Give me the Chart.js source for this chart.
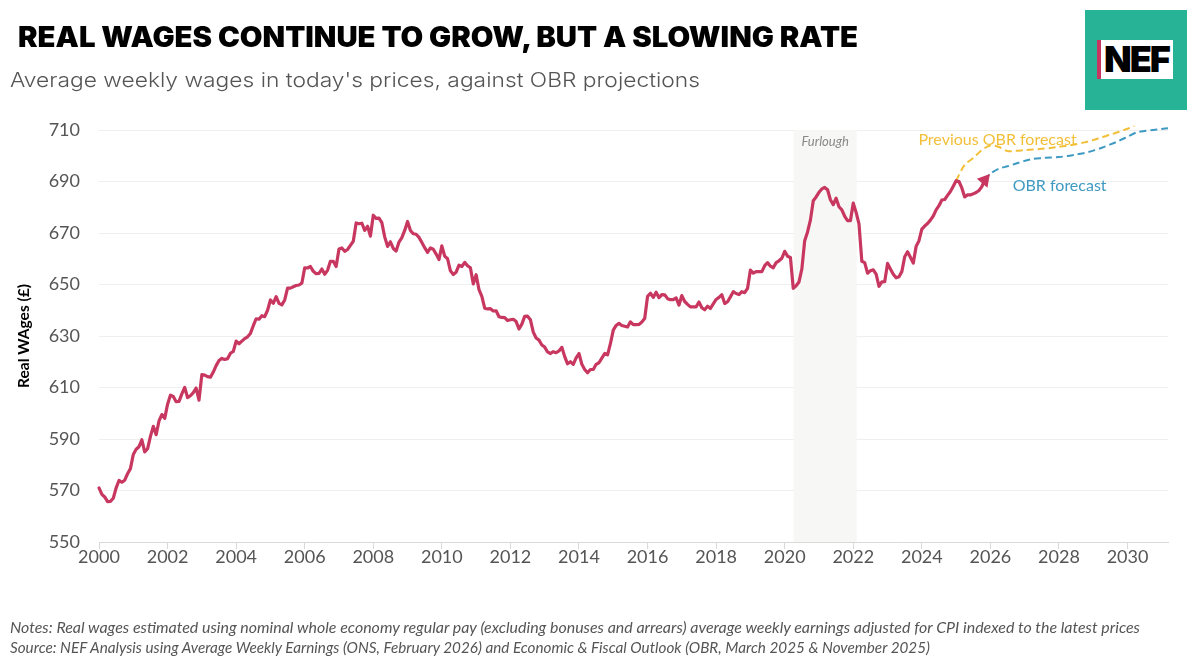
<!DOCTYPE html>
<html>
<head>
<meta charset="utf-8">
<script src="https://cdn.jsdelivr.net/npm/chart.js@4.4.1/dist/chart.umd.min.js"></script>
<style>
  html, body { margin:0; padding:0; background:#fff; }
  body { width:1200px; height:663px; position:relative; overflow:hidden; }
  #c { position:absolute; left:0; top:0; }
  .txt { position:absolute; white-space:nowrap; transform-origin:0 0; }
  #title { left:18px; top:20px; font-family:Inter, sans-serif; font-weight:900; font-size:28px; color:#000; letter-spacing:0; }
  #subtitle { left:10px; top:68px; font-family:Inter, sans-serif; font-weight:300; font-size:20px; color:#555; }
  #note1 { left:10px; top:618px; font-family:Lato, sans-serif; font-style:italic; font-size:15px; color:#555; }
  #note2 { left:10px; top:638px; font-family:Lato, sans-serif; font-style:italic; font-size:15px; color:#555; }
  #logo { position:absolute; left:1085px; top:10px; width:102px; height:100px; background:#27b396; }
  #logoInner { position:absolute; left:12px; top:30px; width:76px; height:39px; background:#fff; }
  #logoBar { position:absolute; left:0; top:0; width:4px; height:39px; background:#c8375f; }
  #logoText { position:absolute; left:7px; top:-2px; font-family:Inter, sans-serif; font-weight:900; font-size:36px; color:#000; letter-spacing:-2px; line-height:43px; }
</style>
</head>
<body>
<canvas id="c" width="1200" height="663"></canvas>
<div id="title" class="txt">REAL WAGES CONTINUE TO GROW, BUT A SLOWING RATE</div>
<div id="subtitle" class="txt">Average weekly wages in today's prices, against OBR projections</div>
<div id="note1" class="txt">Notes: Real wages estimated using nominal whole economy regular pay (excluding bonuses and arrears) average weekly earnings adjusted for CPI indexed to the latest prices</div>
<div id="note2" class="txt">Source: NEF Analysis using Average Weekly Earnings (ONS, February 2026) and Economic &amp; Fiscal Outlook (OBR, March 2025 &amp; November 2025)</div>
<div id="logo"><div id="logoInner"><div id="logoBar"></div><div id="logoText">NEF</div></div></div>
<script>
// ---------------- DATA ----------------
// Monthly real average weekly wages (£, today's prices), Jan 2000 onwards
const wageStartYear = 2000;
const realWages = [
  571, 568.5, 567.5, 565.7, 565.8, 567, 571, 573.9, 573.2, 574, 576.5, 578.5,
  584, 586, 587, 589.7, 585, 586.2, 591, 594.9, 591.7, 597, 599.5, 598,
  603.5, 607, 606.5, 604.5, 604.6, 607.5, 610, 606.1, 606.8, 608, 609.8, 605.1,
  615, 614.8, 614.2, 614, 616, 618.5, 620.5, 621.3, 620.9, 621.2, 623.3, 624,
  628, 627, 628, 629, 629.7, 631, 634, 636.7, 636.5, 637.9, 637.5, 640,
  644, 642.7, 645.3, 642.7, 642.1, 644, 648.6, 648.6, 649.1, 649.6, 649.8, 650.5,
  656.5, 656.4, 657, 655.1, 654.2, 654.3, 656, 654, 655.5, 659, 659, 657,
  663.8, 664.2, 662.9, 663.6, 665.2, 666.8, 673.9, 673.6, 673.8, 671, 672.6, 668.8,
  676.9, 675.7, 675.8, 674, 668.5, 664.8, 666.6, 664, 663, 666.5, 668.2, 671,
  674.5, 671, 669.7, 669.5, 668.3, 666.3, 664.3, 662.5, 664.2, 663.7, 661.8, 659.7,
  665, 661, 660, 655.3, 653.9, 654.8, 657.5, 657, 658.6, 657.3, 656.5, 650.2,
  653.8, 648, 645.4, 640.8, 640.5, 640.6, 639.7, 639.8, 637.5, 637.2, 637.1, 636,
  636.3, 636.5, 635.6, 632.7, 634.6, 637.6, 637.7, 636.3, 631.5, 629.2, 628.4, 626.5,
  625.7, 623.8, 623.2, 623.9, 623.5, 624.2, 625.6, 622, 619.2, 620, 619, 621.5,
  623.2, 619, 617, 615.7, 617, 617, 619, 619.6, 621.4, 623.2, 622.7, 627,
  632.3, 634.1, 634.9, 634.1, 633.8, 633.5, 635.5, 634.4, 634.4, 634.5, 635.4, 636.8,
  645.4, 646.6, 645, 647, 644.9, 646.1, 646, 644.5, 644.1, 644.1, 644.8, 642,
  645.7, 643.4, 642.3, 641.3, 641.3, 641.3, 643.2, 641, 640.2, 641.6, 640.7, 642.5,
  644.2, 645, 646, 642.6, 643.3, 645.2, 647.2, 646.5, 646.1, 647.2, 646.8, 648.5,
  655.6, 654.4, 655, 655, 655, 657.3, 658.5, 657.1, 656.5, 658.5, 659.2, 660.2,
  662.9, 661, 660.5, 648.5, 649.5, 651, 656, 667, 670.4, 675, 682.5, 684,
  685.8, 687.1, 687.7, 686.8, 682.9, 681, 683.5, 680.2, 679, 676.5, 674.8, 674.8,
  681.6, 678, 673.5, 659, 658.5, 654.4, 655.3, 655.7, 654, 649.3, 651, 651.1,
  658.2, 656, 654, 652.6, 653, 655, 660.8, 662.7, 660.6, 658.3, 664.8, 667,
  671.5, 672.7, 673.7, 675, 676.6, 679, 680.6, 682.8, 683, 684.6, 686.1, 688.2,
  690.3, 690, 687.5, 684, 684.8, 684.8, 685.2, 685.7, 686.5, 688, 690.5
];

// OBR forecast (November 2025)
const obrYears  = [2025.833, 2026.0, 2026.25, 2026.5, 2026.75, 2027.0, 2027.25, 2027.5, 2027.75, 2028.0, 2028.25, 2028.5, 2028.75, 2029.0, 2029.25, 2029.5, 2029.75, 2030.0, 2030.25, 2030.5, 2030.75, 2031.0, 2031.18];
const obrValues = [690.5, 693, 695, 695.9, 697, 698, 698.8, 699.1, 699.3, 699.5, 699.9, 700.5, 701.1, 702, 703.1, 704.4, 705.8, 707.4, 709, 709.6, 710, 710.4, 710.7];

// Previous OBR forecast (March 2025)
const prevObrYears  = [2025.0, 2025.25, 2025.5, 2025.75, 2026.0, 2026.25, 2026.5, 2026.75, 2027.0, 2027.25, 2027.5, 2027.75, 2028.0, 2028.25, 2028.5, 2028.75, 2029.0, 2029.25, 2029.5, 2029.75, 2030.0, 2030.2];
const prevObrValues = [690.3, 696.5, 699.1, 702.2, 704, 703.4, 701.8, 701.9, 702.2, 702.4, 702.7, 703, 703.5, 703.9, 704.5, 705.2, 706.1, 707.2, 708.2, 709.3, 710.5, 711.5];

const furloughPeriod = [2020.26, 2022.1];
const xTickYears = [2000, 2002, 2004, 2006, 2008, 2010, 2012, 2014, 2016, 2018, 2020, 2022, 2024, 2026, 2028, 2030];
const yTickValues = [550, 570, 590, 610, 630, 650, 670, 690, 710];

// ---------------- COLOURS ----------------
const cWage = '#c8375f';
const cObr = '#3f9ac2';
const cPrev = '#f2bf38';

const wagePoints = realWages.map((v, i) => ({ x: wageStartYear + i / 12, y: v }));
const obrPoints = obrYears.map((x, i) => ({ x, y: obrValues[i] }));
const prevPoints = prevObrYears.map((x, i) => ({ x, y: prevObrValues[i] }));

const annotations = {
  id: 'annotations',
  beforeDatasetsDraw(chart) {
    const { ctx, chartArea, scales: { x } } = chart;
    ctx.save();
    ctx.fillStyle = '#f7f7f5';
    const x0 = x.getPixelForValue(furloughPeriod[0]);
    const x1 = x.getPixelForValue(furloughPeriod[1]);
    ctx.fillRect(x0, chartArea.top, x1 - x0, chartArea.bottom - chartArea.top);
    ctx.font = 'italic 13px Lato, sans-serif';
    ctx.fillStyle = '#888';
    ctx.textAlign = 'center';
    ctx.textBaseline = 'middle';
    ctx.fillText('Furlough', (x0 + x1) / 2, chartArea.top + 12);
    ctx.restore();
  },
  afterDatasetsDraw(chart) {
    const { ctx, scales: { x, y } } = chart;
    ctx.save();
    ctx.font = '16px Lato, sans-serif';
    ctx.textBaseline = 'middle';
    ctx.textAlign = 'left';
    ctx.fillStyle = cPrev;
    ctx.fillText('Previous OBR forecast', x.getPixelForValue(2023.9), y.getPixelForValue(706.1));
    ctx.fillStyle = cObr;
    ctx.fillText('OBR forecast', x.getPixelForValue(2026.65), y.getPixelForValue(688.3));
    ctx.restore();
  }
};

const lastIdx = realWages.length - 1;

new Chart(document.getElementById('c'), {
  type: 'line',
  data: {
    datasets: [
      { data: prevPoints, borderColor: cPrev, borderWidth: 2, borderDash: [7, 4], pointRadius: 0, tension: 0.3, clip: false, order: 3 },
      { data: obrPoints, borderColor: cObr, borderWidth: 2, borderDash: [7, 4], pointRadius: 0, tension: 0.3, clip: false, order: 2 },
      { data: wagePoints, borderColor: cWage, backgroundColor: cWage, borderWidth: 3.2, tension: 0,
        borderJoinStyle: 'round', borderCapStyle: 'round',
        pointStyle: 'triangle',
        pointRadius: ctx => ctx.dataIndex === lastIdx ? 8 : 0,
        pointRotation: 40,
        pointBorderWidth: 0,
        clip: false, order: 1 }
    ]
  },
  options: {
    responsive: false,
    animation: false,
    events: [],
    layout: { padding: { left: 0, top: 130, right: 32, bottom: 0 } },
    plugins: { legend: { display: false }, tooltip: { enabled: false } },
    scales: {
      x: {
        type: 'linear',
        min: 2000,
        max: 2031.18,
        afterFit: s => { s.height = 121; },
        afterBuildTicks: s => { s.ticks = xTickYears.map(v => ({ value: v })); },
        grid: { drawOnChartArea: false, drawTicks: true, tickLength: 7, color: '#d9d9d9' },
        border: { color: '#d9d9d9', width: 1 },
        ticks: { color: '#555', font: { family: 'Lato, sans-serif', size: 18 }, padding: -3, maxRotation: 0, autoSkip: false, callback: v => String(v) }
      },
      y: {
        min: 550,
        max: 710,
        afterFit: s => { s.width = 99; },
        afterBuildTicks: s => { s.ticks = yTickValues.map(v => ({ value: v })); },
        grid: { color: ctx => ctx.tick && ctx.tick.value === 550 ? 'rgba(0,0,0,0)' : '#efefef', drawTicks: false, lineWidth: 1 },
        border: { display: false },
        ticks: { color: '#555', font: { family: 'Lato, sans-serif', size: 18 }, padding: 19, callback: v => String(v) },
        title: { display: true, text: 'Real WAges (£)', color: '#000', font: { family: 'Lato, sans-serif', size: 15.5, weight: 'bold' }, padding: { top: 15, bottom: 0 } }
      }
    }
  },
  plugins: [annotations]
});

// fit HTML texts to the reference widths
function fitWidth(id, target) {
  const el = document.getElementById(id);
  const w = el.getBoundingClientRect().width;
  el.style.transform = 'scaleX(' + (target / w) + ')';
}
fitWidth('title', 840);
fitWidth('subtitle', 690);
fitWidth('note1', 1130);
fitWidth('note2', 920);
</script>
</body>
</html>
